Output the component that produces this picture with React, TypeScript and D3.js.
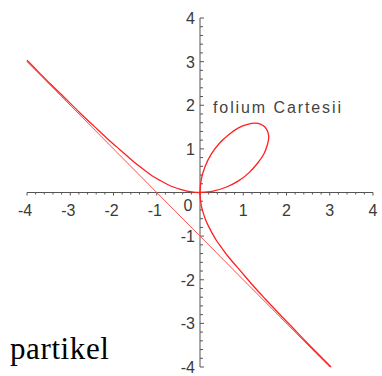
import React from 'react'
import * as d3 from 'd3'

// points, [x, y]
const leftBranch: [number, number][] = [
  [-4.0, 3.03], [-3.73, 2.76], [-3.45, 2.48], [-3.2, 2.24], [-2.78, 1.83],
  [-2.44, 1.51], [-2.16, 1.25], [-1.92, 1.04], [-1.71, 0.86], [-1.49, 0.67],
  [-1.28, 0.51], [-1.1, 0.38], [-0.93, 0.28], [-0.76, 0.19], [-0.6, 0.12],
  [-0.45, 0.07], [-0.3, 0.03], [-0.15, 0.008], [0, 0],
]
const loop: [number, number][] = [
  [0, 0], [0.3, 0.03], [0.6, 0.12], [0.88, 0.26], [1.13, 0.45], [1.33, 0.67],
  [1.48, 0.89], [1.56, 1.1], [1.59, 1.27], [1.56, 1.41], [1.5, 1.5],
  [1.41, 1.56], [1.27, 1.59], [1.1, 1.56], [0.89, 1.48], [0.67, 1.33],
  [0.45, 1.13], [0.26, 0.88], [0.12, 0.6], [0.03, 0.3], [0, 0],
]
const lowerBranch: [number, number][] = [
  [0, 0], [0.008, -0.15], [0.03, -0.3], [0.07, -0.45], [0.12, -0.6],
  [0.19, -0.76], [0.28, -0.93], [0.38, -1.1], [0.51, -1.28], [0.67, -1.49],
  [0.86, -1.71], [1.04, -1.92], [1.25, -2.16], [1.51, -2.44], [1.83, -2.78],
  [2.24, -3.2], [2.48, -3.45], [2.76, -3.73], [3.03, -4.0],
]
const asymptote: [number, number][] = [[-4, 3], [3, -4]]

const xTicks = [-4, -3, -2, -1, 1, 2, 3, 4]
const yTicks = [4, 3, 2, 1, -1, -2, -3, -4]
const label = 'folium Cartesii'

export default function App() {
  const x = d3.scaleLinear().domain([-4, 4]).range([27, 373])
  const y = d3.scaleLinear().domain([-4, 4]).range([367, 18])
  const line = d3.line<[number, number]>()
    .x(d => x(d[0])).y(d => y(d[1]))
    .curve(d3.curveCatmullRom)
  const straight = d3.line<[number, number]>().x(d => x(d[0])).y(d => y(d[1]))
  const minorX = x.ticks(40)
  const minorY = y.ticks(40)
  const axisCol = '#555'
  const sans = 'Liberation Sans'

  return (
    <svg width={382} height={376} style={{ position: 'absolute', left: 0, top: 0, background: '#fff' }}>
      {/* x axis */}
      <line x1={x(-4)} x2={x(4)} y1={y(0)} y2={y(0)} stroke={axisCol} strokeWidth={1} />
      {minorX.map(t => (
        <line key={'mx' + t} x1={x(t)} x2={x(t)} y1={y(0)}
          y2={y(0) + (Number.isInteger(t) ? 3 : 2)} stroke={axisCol} strokeWidth={1} />
      ))}
      {xTicks.map(t => (
        <text key={'xl' + t} x={x(t) - (t < 0 ? 2 : 0)} y={y(0) + 23} textAnchor="middle"
          fontFamily={sans} fontSize={16} fill="#3a3a3a">{t}</text>
      ))}
      <text x={188} y={y(0) + 18} textAnchor="middle" fontFamily={sans} fontSize={16} fill="#3a3a3a">0</text>

      {/* y axis */}
      <line x1={x(0)} x2={x(0)} y1={y(4)} y2={y(-4)} stroke={axisCol} strokeWidth={1} />
      {minorY.map(t => (
        <line key={'my' + t} x1={x(0)} x2={x(0) + (Number.isInteger(t) ? 4 : 3)}
          y1={y(t)} y2={y(t)} stroke={axisCol} strokeWidth={1} />
      ))}
      {yTicks.map(t => (
        <text key={'yl' + t} x={x(0) - 5} y={y(t) + 6} textAnchor="end"
          fontFamily={sans} fontSize={16} fill="#3a3a3a">{t}</text>
      ))}

      {/* curves */}
      <path d={straight(asymptote) || ''} fill="none" stroke="#ff5050" strokeWidth={1} />
      <path d={line(leftBranch) || ''} fill="none" stroke="#ff2020" strokeWidth={1.3} />
      <path d={line(loop) || ''} fill="none" stroke="#ff2020" strokeWidth={1.3} />
      <path d={line(lowerBranch) || ''} fill="none" stroke="#ff2020" strokeWidth={1.3} />

      <text x={213} y={113} fontFamily={sans} fontSize={16} fill="#444" letterSpacing={1.9}>{label}</text>
      <text x={10} y={359} fontFamily="Liberation Serif" fontSize={31} fill="#000" letterSpacing={0.6}>partikel</text>
    </svg>
  )
}
